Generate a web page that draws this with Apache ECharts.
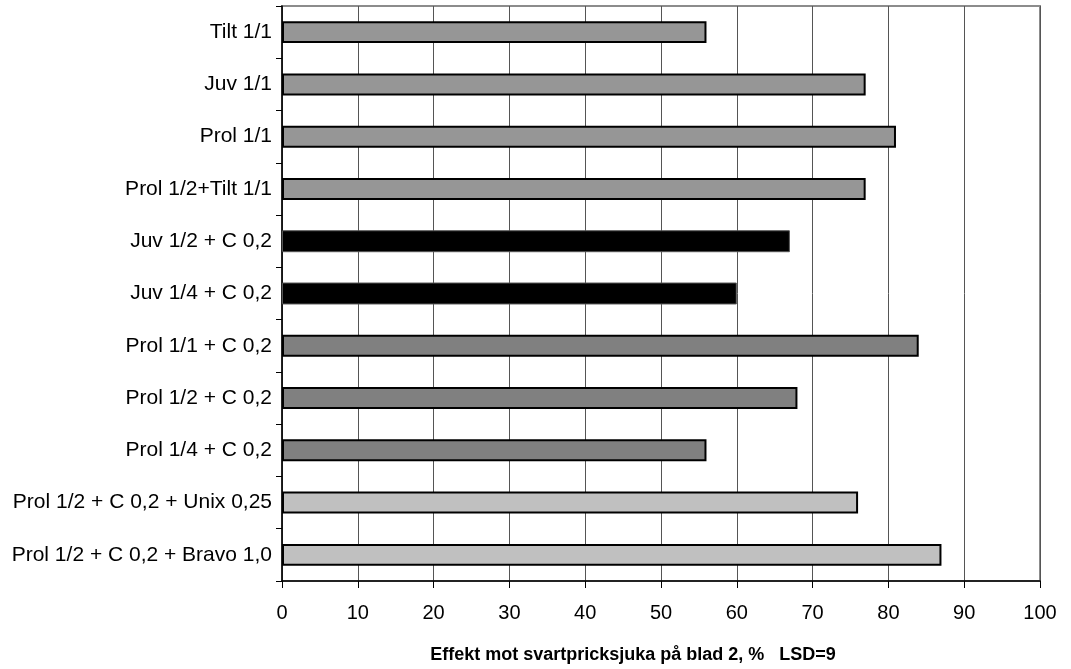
<!DOCTYPE html>
<html><head><meta charset="utf-8">
<script src="https://cdn.jsdelivr.net/npm/echarts@6/dist/echarts.min.js"></script>
<style>html,body{margin:0;padding:0;background:#fff}#c{width:1071px;height:669px}</style>
</head><body><div id="c"></div>
<script>
const categories = ["Tilt 1/1","Juv 1/1","Prol 1/1","Prol 1/2+Tilt 1/1","Juv 1/2 + C 0,2","Juv 1/4 + C 0,2","Prol 1/1 + C 0,2","Prol 1/2 + C 0,2","Prol 1/4 + C 0,2","Prol 1/2 + C 0,2 + Unix 0,25","Prol 1/2 + C 0,2 + Bravo 1,0"];
const values = [56,77,81,77,67,60,84,68,56,76,87];
const barColors = ["#969696","#969696","#969696","#969696","#000000","#000000","#808080","#808080","#808080","#C0C0C0","#C0C0C0"];
const xTicks = [0,10,20,30,40,50,60,70,80,90,100];
const xTitle = "Effekt mot svartpricksjuka på blad 2, %   LSD=9";

const font = "'Liberation Sans',Arial,sans-serif";
const chart = echarts.init(document.getElementById('c'), null, {renderer:'canvas'});
chart.setOption({
  animation:false,
  backgroundColor:'#fff',
  grid:{left:282,right:31,top:6,bottom:88,show:true,borderColor:'#8c8c8c',borderWidth:2,backgroundColor:'#fff'},
  xAxis:{type:'value',min:0,max:100,interval:10,
    axisLine:{show:true,lineStyle:{color:'#000',width:1.5}},
    axisTick:{show:true,length:7,lineStyle:{color:'#000'}},
    splitLine:{show:true,lineStyle:{color:'#555',width:1}},
    axisLabel:{color:'#000',fontSize:20,fontFamily:font,margin:22,formatter:v=>xTicks.includes(v)?String(v):''},
    name:xTitle,nameLocation:'middle',nameGap:65,
    nameTextStyle:{color:'#000',fontSize:18,fontWeight:'bold',fontFamily:font,padding:[0,56,0,0]}},
  yAxis:{type:'category',data:categories,inverse:true,
    axisLine:{show:true,lineStyle:{color:'#000',width:1.5}},
    axisTick:{show:true,length:6,lineStyle:{color:'#000'}},
    axisLabel:{color:'#000',fontSize:21,fontFamily:font,margin:10}},
  series:[{type:'bar',barCategoryGap:'58%',
    data:values.map((v,i)=>({value:v,itemStyle:{color:barColors[i],borderColor:barColors[i]==='#000000'?'#555':'#000',borderWidth:barColors[i]==='#000000'?1:2}}))}]
});
</script></body></html>
